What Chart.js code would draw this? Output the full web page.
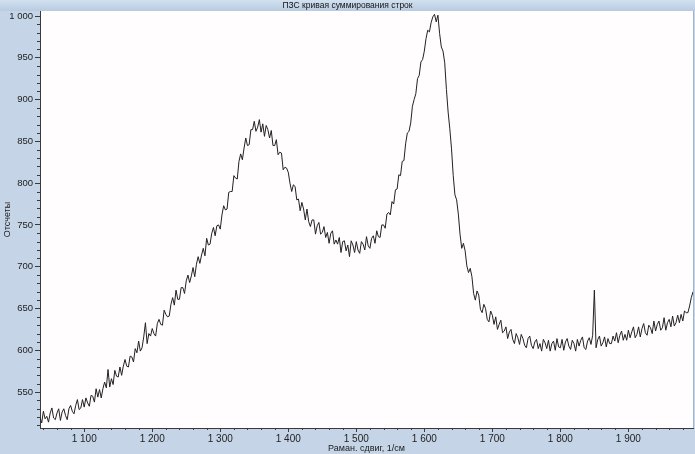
<!DOCTYPE html>
<html lang="ru">
<head>
<meta charset="utf-8">
<title>ПЗС кривая суммирования строк</title>
<script src="https://cdn.jsdelivr.net/npm/chart.js@4/dist/chart.umd.min.js"></script>
<style>
    html, body { margin: 0; padding: 0; background: #c5d5e7; }
    #wrap { width: 695px; height: 454px; }
</style>
</head>
<body>
<div id="wrap"><canvas id="spectrum" width="695" height="454"></canvas></div>
<script>
// spectrum read every 2.5 1/cm starting at 1035
const shiftStart = 1035;
const shiftStep = 2.5;

// counts, one block per hundred 1/cm
const counts1035 = [520, 513, 527, 518, 521, 514, 525, 531, 519, 517,
    525, 530, 516, 526, 530, 522, 517, 530, 534, 527,
    524, 534, 541, 529, 531, 541];
const counts1100 = [532, 543, 537, 533, 546, 545, 538, 554, 544, 553,
    543, 554, 562, 555, 577, 556, 566, 559, 576, 569,
    568, 580, 570, 581, 589, 581, 580, 593, 592, 586,
    602, 597, 611, 599, 603, 616, 633, 608, 620, 617];
const counts1200 = [626, 620, 617, 632, 637, 631, 630, 648, 643, 640,
    641, 655, 663, 654, 672, 661, 661, 675, 675, 668,
    683, 690, 681, 689, 699, 688, 703, 712, 704, 714,
    722, 713, 734, 726, 727, 740, 747, 737, 749, 750];
const counts1300 = [745, 762, 773, 768, 769, 789, 790, 790, 809, 806,
    805, 826, 835, 828, 842, 854, 845, 846, 864, 864,
    874, 862, 867, 876, 861, 871, 856, 869, 864, 854,
    863, 845, 845, 852, 834, 837, 836, 816, 819, 818];
const counts1400 = [813, 800, 790, 798, 796, 780, 781, 767, 777, 769,
    756, 769, 754, 748, 756, 756, 739, 749, 753, 739,
    741, 748, 735, 741, 728, 740, 743, 727, 732, 727,
    735, 717, 730, 731, 719, 726, 712, 731, 726, 717];
const counts1500 = [730, 720, 716, 730, 727, 720, 736, 725, 722, 734,
    737, 728, 743, 736, 735, 750, 750, 746, 763, 765,
    762, 778, 775, 792, 793, 810, 809, 826, 827, 847,
    860, 862, 872, 892, 900, 907, 925, 929, 945, 948];
const counts1600 = [958, 973, 983, 981, 992, 999, 1002, 993, 1001, 979,
    963, 958, 944, 912, 885, 865, 841, 809, 786, 780,
    763, 739, 722, 728, 719, 701, 693, 698, 688, 668,
    660, 671, 666, 649, 645, 655, 650, 637, 634, 647];
const counts1700 = [642, 631, 640, 625, 631, 636, 621, 623, 628, 614,
    622, 625, 613, 608, 620, 615, 607, 619, 614, 606,
    603, 614, 617, 606, 602, 610, 613, 602, 608, 599,
    613, 609, 602, 612, 599, 608, 611, 600, 614, 604];
const counts1800 = [603, 613, 600, 610, 614, 605, 601, 612, 608, 599,
    613, 605, 612, 616, 603, 601, 611, 615, 607, 618,
    672, 603, 613, 617, 605, 609, 616, 604, 614, 608,
    608, 617, 611, 621, 609, 618, 623, 612, 619, 612];
const counts1900 = [624, 615, 622, 628, 615, 619, 628, 616, 626, 632,
    621, 618, 630, 627, 620, 635, 623, 631, 635, 624,
    627, 639, 624, 633, 637, 628, 641, 629, 633, 642,
    633, 643, 635, 647, 645, 645, 653, 663, 670];

const xTickValues = [1100, 1200, 1300, 1400, 1500, 1600, 1700, 1800, 1900];
const yTickValues = [550, 600, 650, 700, 750, 800, 850, 900, 950, 1000];

const chartTitle = 'ПЗС кривая суммирования строк';
const xTitle = 'Раман. сдвиг, 1/см';
const yTitle = 'Отсчеты';

const counts = [].concat(counts1035, counts1100, counts1200, counts1300, counts1400,
    counts1500, counts1600, counts1700, counts1800, counts1900);
const points = counts.map(function (c, i) {
    return { x: shiftStart + i * shiftStep, y: c };
});

const fontFamily = 'Liberation Sans, Arial, sans-serif';
const labelFont = { family: fontFamily, size: 10 };
const titleFont = { family: fontFamily, size: 9 };

function spaced(v) {
    return String(v).replace(/\B(?=(\d{3})+(?!\d))/g, ' ');
}

// panel, title band, white plot area and the short minor ticks
const panel = {
    id: 'panel',
    beforeDraw: function (chart) {
        const ctx = chart.ctx, a = chart.chartArea;
        ctx.save();
        ctx.fillStyle = '#c5d5e7';
        ctx.fillRect(0, 0, chart.width, chart.height);
        let g = ctx.createLinearGradient(0, 0, 0, a.top);
        g.addColorStop(0, '#d3e1ef');
        g.addColorStop(1, '#b7cbe1');
        ctx.fillStyle = g;
        ctx.fillRect(0, 0, chart.width, a.top);
        ctx.fillStyle = '#fffdfd';
        ctx.fillRect(a.left, a.top, a.right - a.left, a.bottom - a.top);
        ctx.fillStyle = '#141414';
        ctx.font = '8.5px ' + fontFamily;
        ctx.textAlign = 'center';
        ctx.textBaseline = 'middle';
        ctx.fillText(chartTitle, chart.width / 2, a.top / 2 + 0.5);
        ctx.restore();
    },
    afterDraw: function (chart) {
        const ctx = chart.ctx, a = chart.chartArea;
        const xs = chart.scales.x, ys = chart.scales.y;
        ctx.save();
        ctx.strokeStyle = '#3a3a3a';
        ctx.lineWidth = 1;
        ctx.beginPath();
        for (let v = 510; v <= ys.max; v += 10) {
            if (v % 50 === 0) continue;
            const py = Math.round(ys.getPixelForValue(v)) + 0.5;
            ctx.moveTo(a.left - 3, py);
            ctx.lineTo(a.left, py);
        }
        for (let v = 1040; v <= xs.max; v += 20) {
            if (v % 100 === 0) continue;
            const px = Math.round(xs.getPixelForValue(v)) + 0.5;
            ctx.moveTo(px, a.bottom);
            ctx.lineTo(px, a.bottom + 2);
        }
        ctx.stroke();
        ctx.strokeStyle = '#9fb6cf';
        ctx.beginPath();
        ctx.moveTo(a.right + 0.5, a.top);
        ctx.lineTo(a.right + 0.5, a.bottom);
        ctx.stroke();
        ctx.restore();
    }
};

new Chart(document.getElementById('spectrum'), {
    type: 'line',
    data: {
        datasets: [{
            data: points,
            borderColor: '#222',
            borderWidth: 1,
            pointRadius: 0,
            tension: 0,
            fill: false
        }]
    },
    options: {
        responsive: false,
        animation: false,
        devicePixelRatio: 1,
        parsing: false,
        layout: { padding: { top: 11, right: 2, left: 0, bottom: 0 } },
        plugins: {
            legend: { display: false },
            title: { display: false },
            tooltip: { enabled: false }
        },
        scales: {
            x: {
                type: 'linear',
                min: 1035,
                max: 1995,
                afterFit: function (s) { s.height = 26; },
                afterBuildTicks: function (s) {
                    s.ticks = xTickValues.map(function (v) { return { value: v }; });
                },
                ticks: {
                    font: labelFont,
                    color: '#222',
                    padding: 1,
                    maxRotation: 0,
                    autoSkip: false,
                    callback: function (v) { return spaced(v); }
                },
                grid: { drawOnChartArea: false, tickLength: 4, color: '#3a3a3a' },
                border: { display: true, color: '#3a3a3a' },
                title: {
                    display: true,
                    text: xTitle,
                    font: titleFont,
                    color: '#1b1b1b',
                    padding: { top: 0, bottom: 0 }
                }
            },
            y: {
                type: 'linear',
                min: 507,
                max: 1006,
                afterFit: function (s) { s.width = 40; },
                afterBuildTicks: function (s) {
                    s.ticks = yTickValues.map(function (v) { return { value: v }; });
                },
                ticks: {
                    font: { family: fontFamily, size: 9.5 },
                    color: '#222',
                    padding: 2,
                    autoSkip: false,
                    callback: function (v) { return spaced(v); }
                },
                grid: { drawOnChartArea: false, tickLength: 5, color: '#3a3a3a' },
                border: { display: true, color: '#3a3a3a' },
                title: {
                    display: true,
                    text: yTitle,
                    font: titleFont,
                    color: '#1b1b1b',
                    padding: { top: 2, bottom: 0 }
                }
            }
        }
    },
    plugins: [panel]
});
</script>
</body>
</html>
